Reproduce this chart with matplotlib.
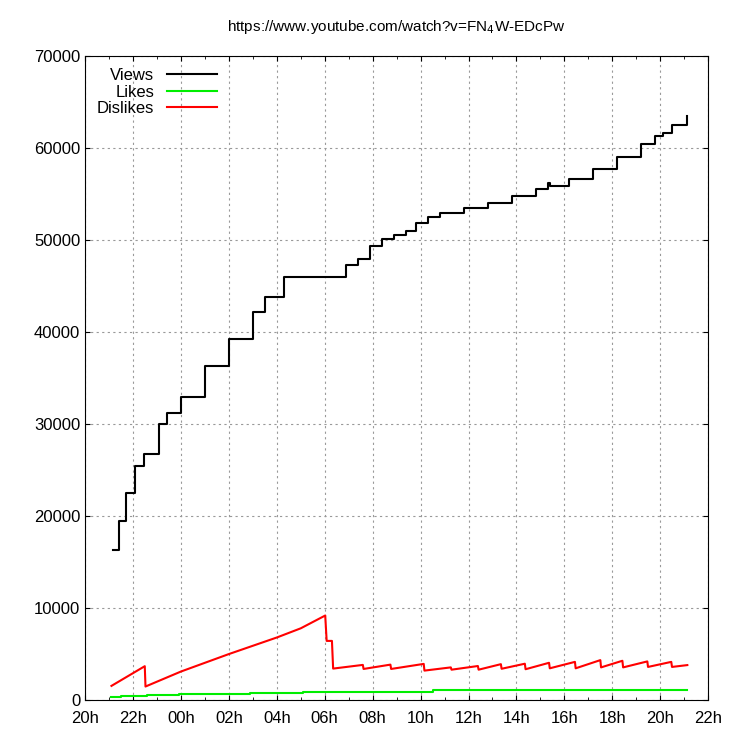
import matplotlib
matplotlib.use("Agg")
import matplotlib.pyplot as plt

plt.rcParams['font.family'] = ['Liberation Sans', 'DejaVu Sans']

# time in hours since 20h
views_t = [1.15,1.4,1.7,2.1,2.45,2.86,3.07,3.4,4.0,5.0,6.0,7.0,7.5,8.28,10.36,10.9,11.4,11.9,12.4,12.9,13.4,13.8,14.3,14.8,15.8,16.8,17.8,18.8,19.3,19.4,20.2,21.2,22.2,23.2,23.8,24.1,24.5,25.1]
views_v = [16300,19500,22500,25500,26700,26700,30000,31200,33000,36300,39300,42200,43800,46000,46000,47300,48000,49400,50100,50600,51000,51900,52500,53000,53500,54000,54800,55600,56200,55900,56600,57700,59000,60500,61300,61600,62500,63500]

dis_t = [1.1,2.49,2.52,4.0,6.0,8.0,9.0,10.02,10.08,10.3,10.35,11.59,11.62,12.74,12.77,14.13,14.16,15.26,15.29,16.39,16.42,17.35,17.38,18.35,18.38,19.36,19.39,20.44,20.47,21.50,21.53,22.42,22.45,23.46,23.49,24.46,24.49,25.13]
dis_v = [1540,3680,1470,3100,5000,6800,7800,9190,6430,6430,3420,3820,3380,3850,3380,3930,3200,3550,3300,3700,3300,3900,3400,3950,3350,4050,3450,4150,3450,4340,3550,4270,3550,4200,3600,4150,3600,3800]

likes_t = [1.1,1.5,2.6,3.9,5.0,6.9,9.1,14.5,23.5,25.13]
likes_v = [370,480,590,700,700,810,920,1070,1140,1140]

xticks = list(range(0, 27, 2))
xlabels = ['20h','22h','00h','02h','04h','06h','08h','10h','12h','14h','16h','18h','20h','22h']

fig = plt.figure(figsize=(7.4, 7.4), dpi=100)
ax = fig.add_axes([0.115, 0.054, 0.842, 0.870])
ax.plot(views_t, views_v, color='black', lw=1.5, label='Views', drawstyle='steps-post')
ax.plot(likes_t, likes_v, color='#00ee00', lw=1.5, label='Likes', drawstyle='steps-post')
ax.plot(dis_t, dis_v, color='red', lw=1.5, label='Dislikes')
ax.set_xlim(0, 26)
ax.set_ylim(0, 70000)
ax.set_xticks(xticks)
ax.set_xticklabels(xlabels)
ax.set_xticks(range(0, 27), minor=True)
ax.set_yticks(range(0, 70001, 10000))
ax.tick_params(direction='in', labelsize=12, top=True, right=True, which='both')
ax.tick_params(axis='x', pad=8)
ax.grid(True, linestyle=(0, (2, 3)), color='#999999', lw=0.8)
ax.set_title('https://www.youtube.com/watch?v=FN$_4$W-EDcPw', fontsize=11, pad=18)
leg = ax.legend(loc='upper left', markerfirst=False, frameon=False, fontsize=12,
                handlelength=3, borderaxespad=0.3, labelspacing=0.1)
for t in leg.get_texts():
    t.set_ha('right')
fig.savefig('out.png', dpi=100)
